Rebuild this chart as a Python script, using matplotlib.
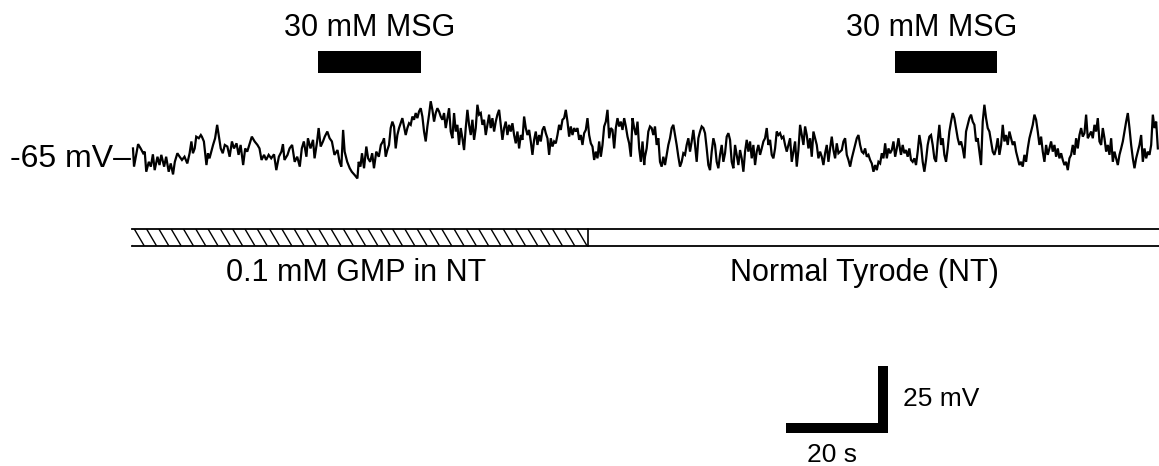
import numpy as np
import matplotlib
matplotlib.use("Agg")
import matplotlib.pyplot as plt
from matplotlib.patches import Rectangle
from matplotlib.collections import LineCollection

# ---------------- data ----------------
REST_MV = -65.0

trace_a_t = [0.0, 0.2, 1.0, 1.5, 2.0, 2.3, 2.6, 3.1, 3.5, 3.9,
             4.25, 4.8, 5.2, 5.55, 6.1, 6.5, 7.0, 7.4, 7.85, 8.2,
             8.7, 9.15, 9.6, 10.1, 10.65, 11.1, 11.45, 11.75, 12.1, 12.4,
             12.9, 13.3, 13.5, 13.9, 14.4, 14.7, 15.0, 15.7, 16.1, 16.5,
             16.9, 17.2, 17.6, 18.0, 18.5, 18.95, 19.4, 19.8, 20.3, 20.7,
             21.1, 21.6, 22.0, 22.4, 22.9, 23.3, 23.85, 24.4, 24.8, 25.2,
             25.7, 26.1, 26.6, 27.1, 27.65, 28.1, 28.6, 29.1, 29.4, 29.7,
             30.3, 30.7, 31.2, 31.7, 32.2, 32.7, 33.1, 33.5, 34.0, 34.3,
             34.8, 35.3, 35.6, 36.1, 36.4, 36.8, 37.25, 37.6, 38.1, 38.55,
             39.0, 39.5, 40.1, 40.5, 40.85, 41.2, 41.5, 42.0, 42.5, 42.9,
             43.5, 44.0, 44.25, 44.6, 44.9, 45.3, 45.75, 46.1, 46.5, 46.9,
             47.25, 47.7, 48.2, 48.6, 49.0]
trace_a_mv = [-61.8, -68.6, -60.2, -61.8, -63.6, -63.0, -70.5, -66.8, -68.6, -64.0,
              -69.9, -64.9, -68.0, -64.2, -68.6, -64.9, -70.5, -67.4, -71.5, -66.8,
              -63.6, -64.9, -66.1, -64.9, -67.4, -63.6, -59.2, -63.6, -61.8, -57.4,
              -58.0, -56.8, -57.4, -59.2, -68.0, -63.6, -65.5, -60.5, -58.0, -53.0,
              -58.0, -61.8, -63.6, -60.5, -61.1, -64.9, -59.2, -61.8, -59.9, -64.2,
              -60.5, -68.0, -61.8, -63.0, -59.9, -57.4, -59.2, -60.5, -61.8, -66.1,
              -64.2, -66.1, -64.2, -65.5, -64.0, -69.9, -64.9, -63.0, -60.2, -66.1,
              -64.2, -61.8, -60.5, -66.8, -64.9, -68.6, -61.8, -59.2, -64.9, -58.0,
              -61.8, -58.6, -65.5, -59.2, -54.2, -61.1, -59.2, -57.4, -55.5, -58.0,
              -59.2, -64.2, -62.4, -66.8, -68.6, -54.9, -63.0, -66.8, -69.2, -70.5,
              -71.8, -73.0, -66.8, -68.6, -63.6, -69.2, -61.1, -65.5, -66.8, -63.6,
              -69.2, -63.0, -64.9, -60.5, -59.2]

# remaining trace, digitised at a regular interval
SAMPLE_DT_S = 0.327
trace_b_start_s = 49.22
trace_b_mv = [-58.0, -64.9, -62.4, -60.5, -54.2, -51.8, -53.6, -61.8, -56.8, -54.2,
              -52.4, -50.5, -53.6, -56.8, -54.2, -52.4, -53.0, -49.9, -51.1, -48.6,
              -50.5, -48.0, -46.8, -49.9, -55.5, -59.2, -53.6, -49.2, -44.2, -47.4,
              -51.8, -48.6, -46.8, -48.0, -49.9, -51.1, -48.6, -54.2, -50.5, -46.8,
              -55.5, -58.0, -48.6, -55.5, -53.0, -60.5, -54.2, -58.0, -62.4, -54.2,
              -47.4, -53.0, -56.8, -51.1, -58.6, -54.2, -45.5, -49.2, -48.6, -53.0,
              -51.1, -56.8, -53.0, -49.2, -54.2, -50.5, -55.5, -51.8, -49.2, -47.4,
              -53.0, -58.6, -54.2, -51.8, -56.8, -53.0, -55.5, -52.4, -56.8, -59.9,
              -55.5, -61.8, -56.8, -58.6, -49.9, -54.2, -56.8, -54.9, -59.2, -64.2,
              -58.6, -55.5, -60.5, -56.8, -59.2, -54.9, -53.6, -56.1, -58.0, -64.2,
              -58.0, -61.1, -59.2, -59.9, -56.8, -53.0, -54.9, -51.1, -50.5, -47.4,
              -51.8, -57.4, -53.6, -56.8, -54.2, -55.5, -54.2, -58.6, -56.8, -60.5,
              -56.1, -54.9, -50.5, -56.8, -59.9, -61.1, -66.1, -63.0, -65.5, -59.2,
              -64.9, -60.5, -53.6, -51.8, -47.4, -58.0, -54.2, -54.9, -61.8, -54.2,
              -50.5, -53.6, -51.8, -54.9, -50.5, -53.6, -57.4, -59.9, -64.9, -50.5,
              -54.2, -56.8, -51.8, -61.8, -66.8, -59.2, -68.0]
trace_c_start_s = 100.39
trace_c_mv = [-64.9, -61.8, -55.5, -53.6, -54.2, -56.8, -53.6, -60.5, -58.0, -66.8,
              -68.6, -64.9, -68.0, -64.2, -60.5, -58.0, -54.2, -53.0, -56.8, -60.5,
              -64.9, -68.6, -66.8, -63.6, -64.2, -60.5, -58.0, -63.0, -59.2, -54.9,
              -60.5, -66.8, -58.0, -55.5, -53.6, -54.2, -56.1, -61.8, -68.0, -69.9,
              -63.0, -58.0, -60.5, -66.8, -69.2, -64.2, -60.5, -66.8, -63.6, -57.4,
              -56.1, -58.6, -66.8, -69.2, -60.5, -64.2, -68.0, -62.4, -65.5, -70.5,
              -63.0, -58.6, -63.0, -59.2, -65.5, -60.5, -68.0, -63.0, -60.5, -64.2,
              -61.8, -59.2, -58.0, -54.2, -60.5, -58.6, -64.2, -65.5, -61.8, -55.5,
              -56.8, -56.1, -58.0, -57.4, -60.5, -63.0, -60.5, -58.0, -66.8, -63.0,
              -59.2, -68.6, -62.4, -53.0, -56.8, -60.5, -53.6, -56.8, -61.8, -58.0,
              -64.9, -55.5, -58.0, -60.5, -65.5, -63.0, -64.9, -68.0, -63.6, -60.5,
              -66.8, -61.8, -57.4, -62.4, -65.5, -59.9, -63.6, -63.0, -62.4, -59.2,
              -58.0, -64.2, -66.1, -68.6, -65.5, -63.0, -60.5, -58.0, -56.8, -60.5,
              -63.0, -63.6, -61.8, -64.9, -64.2, -66.1, -67.4, -70.5, -68.0, -69.9,
              -66.8, -67.4, -63.6, -65.5, -59.9, -65.5, -61.8, -63.6, -62.4, -59.2,
              -64.9, -61.8, -58.0, -62.4]
trace_d_start_s = 150.59
trace_d_mv = [-64.2, -60.5, -63.6, -62.4, -64.9, -61.8, -66.1, -66.8, -65.5, -68.0,
              -63.0, -56.8, -60.5, -66.8, -70.5, -66.1, -60.5, -57.4, -56.8, -60.5,
              -65.5, -66.8, -59.2, -53.0, -60.5, -58.0, -64.2, -66.8, -61.8, -55.5,
              -51.8, -48.6, -50.5, -54.2, -58.0, -60.5, -59.2, -61.8, -65.5, -55.5,
              -53.0, -50.5, -49.2, -51.8, -53.0, -59.2, -58.0, -63.0, -68.0, -51.8,
              -45.5, -50.5, -54.2, -55.5, -59.2, -63.0, -64.2, -61.8, -58.0, -64.2,
              -60.5, -53.0, -59.2, -56.8, -60.5, -55.5, -58.0, -60.5, -59.2, -63.0,
              -65.5, -68.0, -66.8, -68.6, -64.2, -66.8, -61.8, -58.0, -55.5, -53.0,
              -49.2, -51.1, -55.5, -60.5, -57.4, -63.0, -66.8, -60.5, -64.2, -61.8,
              -59.2, -63.0, -60.5, -64.9, -61.8, -65.5, -63.6, -66.1, -68.0, -66.8,
              -69.9, -65.5, -64.2, -60.5, -64.2, -58.0, -61.8, -56.8, -54.2, -57.4,
              -56.1, -49.2, -58.0, -56.8, -55.5, -58.0, -53.0, -55.5, -50.5, -59.2,
              -60.5, -54.2, -58.0, -63.0, -60.5, -64.2, -58.0, -66.8, -63.0, -65.5,
              -68.0, -64.2, -61.8, -59.2, -55.5, -51.8, -48.6, -54.2, -60.5, -65.5,
              -69.2, -65.5, -63.0, -60.5, -56.8, -66.8, -61.8, -65.5, -63.0, -64.2,
              -60.5, -49.2, -54.2, -51.8, -61.8]

# stimulus / solution timing (s)
msg_on_s = [36.3, 149.4]
msg_off_s = [56.5, 169.4]
msg_label = "30 mM MSG"
solution_change_s = 89.2
solution_labels = ["0.1 mM GMP in NT", "Normal Tyrode (NT)"]
rest_label = "-65 mV\u2013"

# scale bars
SCALE_T_S = 20.0
SCALE_V_MV = 25.0
scale_labels = ["20 s", "25 mV"]

# ---------------- figure geometry ----------------
W, H = 1159, 466
PX_PER_S = 102.0 / SCALE_T_S      # 20 s scale bar is 102 px long
PX_PER_MV = 67.0 / SCALE_V_MV     # 25 mV scale bar is 67 px tall
X0_PX = 133.0                     # t = 0
Y_REST_PX = 157.0                 # -65 mV level

fig = plt.figure(figsize=(W / 100, H / 100), dpi=100)
ax = fig.add_axes([0, 0, 1, 1])
ax.set_axis_off()
ax.set_xlim(-X0_PX / PX_PER_S, (W - X0_PX) / PX_PER_S)
ax.set_ylim(REST_MV - (H - Y_REST_PX) / PX_PER_MV, REST_MV + Y_REST_PX / PX_PER_MV)


def tx(px):
    return (px - X0_PX) / PX_PER_S


def vy(py):
    return REST_MV + (Y_REST_PX - py) / PX_PER_MV


FONT = "Liberation Sans"

# ---------------- trace ----------------
t_all = list(trace_a_t)
v_all = list(trace_a_mv)
for start, seg in [(trace_b_start_s, trace_b_mv), (trace_c_start_s, trace_c_mv),
                   (trace_d_start_s, trace_d_mv)]:
    t_all += list(start + SAMPLE_DT_S * np.arange(len(seg)))
    v_all += list(seg)
ax.plot(t_all, v_all, color="black", lw=1.6, solid_joinstyle="miter")

ax.text(tx(131), vy(167), rest_label, ha="right", va="baseline",
        fontsize=23, family=FONT, color="black")

# ---------------- MSG application bars ----------------
bar_top, bar_bot = vy(51), vy(73)
label_dx_px = [0, -14]
for on, off, dx in zip(msg_on_s, msg_off_s, label_dx_px):
    ax.add_patch(Rectangle((on, bar_bot), off - on, bar_top - bar_bot,
                           facecolor="black", edgecolor="none"))
    ax.text((on + off) / 2 + dx / PX_PER_S, vy(36), msg_label, ha="center",
            va="baseline", fontsize=22, family=FONT, color="black")

# ---------------- solution bar ----------------
sb_top, sb_bot = vy(229), vy(246)
t_start, t_end = tx(132), tx(W + 5)
ax.plot([t_start, t_end], [sb_top, sb_top], color="black", lw=1.3)
ax.plot([t_start, t_end], [sb_bot, sb_bot], color="black", lw=1.3)
ax.plot([solution_change_s, solution_change_s], [sb_bot, sb_top], color="black", lw=1.2)

clip = Rectangle((t_start, sb_bot), solution_change_s - t_start, sb_top - sb_bot,
                 transform=ax.transData, facecolor="none", edgecolor="none")
ax.add_patch(clip)
segs = []
for x_px in np.arange(132 - 10, X0_PX + solution_change_s * PX_PER_S + 1, 12.3):
    segs.append([(tx(x_px), sb_top), (tx(x_px + 10), sb_bot)])
lc = LineCollection(segs, colors="black", linewidths=1.0)
ax.add_collection(lc)
lc.set_clip_path(clip)

ax.text(tx(356), vy(281), solution_labels[0], ha="center", va="baseline",
        fontsize=22, family=FONT, color="black")
ax.text(tx(864), vy(281), solution_labels[1], ha="center", va="baseline",
        fontsize=22, family=FONT, color="black")

# ---------------- scale bars ----------------
sb_right_t = tx(888)
sb_base_v = vy(433)
thick_v = 10 / PX_PER_MV
thick_t = 10 / PX_PER_S
ax.add_patch(Rectangle((sb_right_t - SCALE_T_S, sb_base_v), SCALE_T_S, thick_v,
                       facecolor="black", edgecolor="none"))
ax.add_patch(Rectangle((sb_right_t - thick_t, sb_base_v), thick_t, SCALE_V_MV,
                       facecolor="black", edgecolor="none"))
ax.text(tx(832), vy(462), scale_labels[0], ha="center", va="baseline",
        fontsize=19, family=FONT, color="black")
ax.text(tx(903), vy(406), scale_labels[1], ha="left", va="baseline",
        fontsize=19, family=FONT, color="black")

fig.savefig("out.png", dpi=100, facecolor="white")
